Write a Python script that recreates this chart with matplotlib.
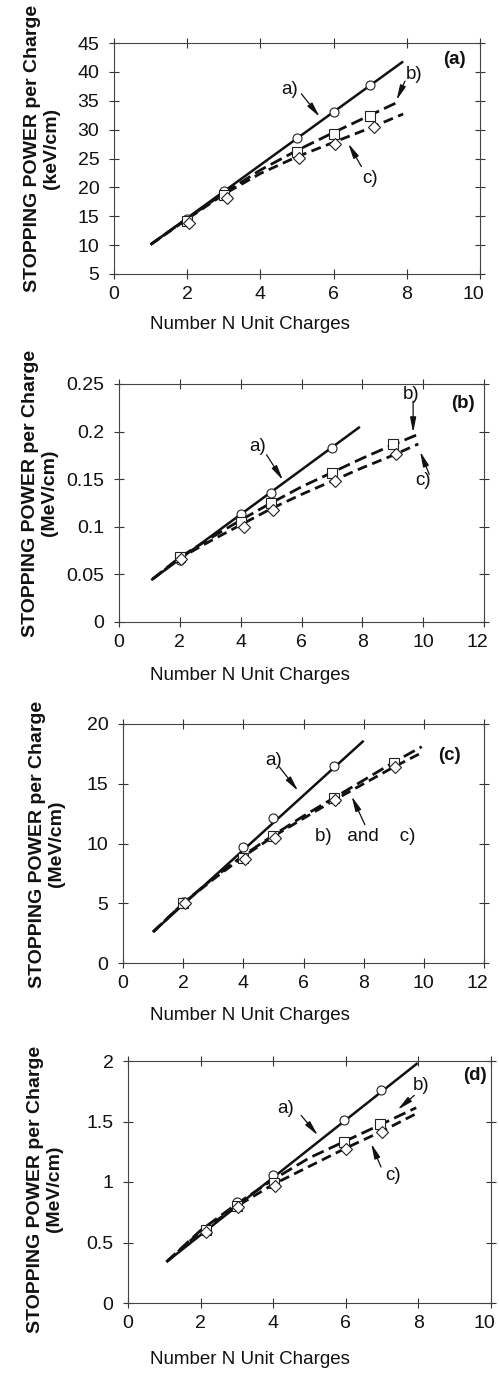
import matplotlib
matplotlib.use("Agg")
import matplotlib.pyplot as plt
from matplotlib.transforms import ScaledTranslation

plt.rcParams["font.family"] = ["Liberation Sans", "DejaVu Sans"]

W, H = 499, 1374

# ---------------------------------------------------------------------------
# Data
# ---------------------------------------------------------------------------

# panel (a), keV/cm
a_fit_a_x = [1.0, 7.9]
a_fit_a_y = [10.1, 41.8]
a_fit_b_x = [1, 2, 3, 4, 5, 6, 7, 7.7]
a_fit_b_y = [10.1, 14.6, 19.0, 23.0, 26.4, 29.5, 32.5, 34.6]
a_fit_c_x = [1, 2, 3, 4, 5, 6, 7, 7.9]
a_fit_c_y = [10.1, 14.5, 18.8, 22.4, 25.3, 27.8, 30.3, 32.7]
a_circ_x = [2, 3, 5, 6, 7]
a_circ_y = [14.6, 19.4, 28.5, 33.0, 37.7]
a_sq_x = [2, 3, 5, 6, 7]
a_sq_y = [14.2, 18.6, 26.1, 29.3, 32.4]
a_dia_x = [2.05, 3.1, 5.05, 6.05, 7.1]
a_dia_y = [13.9, 18.2, 25.1, 27.5, 30.4]

# panel (b), MeV/cm
b_fit_a_x = [1.06, 7.92]
b_fit_a_y = [0.044, 0.205]
b_fit_b_x = [1.1, 2, 3, 4, 5, 6, 7, 8, 9, 9.9]
b_fit_b_y = [0.045, 0.068, 0.088, 0.107, 0.125, 0.142, 0.157, 0.172, 0.186, 0.198]
b_fit_c_x = [1.1, 2, 3, 4, 5, 6, 7, 8, 9, 9.84]
b_fit_c_y = [0.045, 0.067, 0.085, 0.102, 0.119, 0.134, 0.148, 0.162, 0.175, 0.187]
b_circ_x = [2, 4, 5, 7]
b_circ_y = [0.065, 0.113, 0.136, 0.183]
b_sq_x = [2, 4, 5, 7, 9]
b_sq_y = [0.068, 0.105, 0.125, 0.157, 0.187]
b_dia_x = [2.05, 4.1, 5.05, 7.1, 9.1]
b_dia_y = [0.066, 0.100, 0.118, 0.148, 0.176]

# panel (c), MeV/cm
c_fit_a_x = [1.0, 8.0]
c_fit_a_y = [2.6, 18.6]
c_fit_b_x = [1, 2, 3, 4, 5, 6, 7, 8, 9, 9.93]
c_fit_b_y = [2.6, 5.0, 7.1, 9.0, 10.7, 12.3, 13.8, 15.3, 16.8, 18.1]
c_fit_c_x = [1, 2, 3, 4, 5, 6, 7, 8, 9, 9.93]
c_fit_c_y = [2.6, 5.0, 7.0, 8.9, 10.6, 12.1, 13.6, 15.0, 16.4, 17.6]
c_circ_x = [2, 4, 5, 7]
c_circ_y = [5.1, 9.7, 12.1, 16.5]
c_sq_x = [2, 4, 5, 7, 9]
c_sq_y = [5.0, 8.8, 10.6, 13.8, 16.7]
c_dia_x = [2.05, 4.05, 5.05, 7.05, 9.05]
c_dia_y = [5.0, 8.7, 10.5, 13.6, 16.4]

# panel (d), MeV/cm
d_fit_a_x = [1.06, 7.98]
d_fit_a_y = [0.339, 1.983]
d_fit_b_x = [1.06, 2, 3, 4, 5, 6, 7, 7.94]
d_fit_b_y = [0.34, 0.60, 0.82, 1.02, 1.20, 1.34, 1.48, 1.614]
d_fit_c_x = [1.06, 2, 3, 4, 5, 6, 7, 7.94]
d_fit_c_y = [0.34, 0.59, 0.80, 0.98, 1.13, 1.28, 1.42, 1.565]
d_circ_x = [2.14, 3.0, 3.99, 5.94, 6.97]
d_circ_y = [0.606, 0.835, 1.055, 1.51, 1.758]
d_sq_x = [2.14, 3.0, 4.01, 5.96, 6.94]
d_sq_y = [0.60, 0.80, 0.99, 1.33, 1.477]
d_dia_x = [2.16, 3.02, 4.05, 6.0, 7.0]
d_dia_y = [0.59, 0.79, 0.97, 1.275, 1.413]

PANELS = [
    dict(tag="(a)", unit="(keV/cm)",
         xlim=(0, 10), xticks=[0, 2, 4, 6, 8, 10],
         ylim=(5, 45), yticks=[5, 10, 15, 20, 25, 30, 35, 40, 45], ylabels=None,
         fits=[(a_fit_a_x, a_fit_a_y), (a_fit_b_x, a_fit_b_y), (a_fit_c_x, a_fit_c_y)],
         pts=[(a_circ_x, a_circ_y), (a_sq_x, a_sq_y), (a_dia_x, a_dia_y)],
         box=(114, 480, 43, 274), ylab_x=60, ylab_y=148, xlab_y=325,
         tag_xy=(9.3, 42.1),
         notes=[("a)", (4.8, 36.9), (5.12, 36.2), (5.62, 32.2)),
                ("b)", (8.2, 39.6), (7.95, 38.4), (7.72, 35.1)),
                ("c)", (7.0, 21.5), (6.76, 23.6), (6.4, 27.6))]),
    dict(tag="(b)", unit="(MeV/cm)",
         xlim=(0, 12), xticks=[0, 2, 4, 6, 8, 10, 12],
         ylim=(0, 0.25), yticks=[0, 0.05, 0.1, 0.15, 0.2, 0.25],
         ylabels=["0", "0.05", "0.1", "0.15", "0.2", "0.25"],
         fits=[(b_fit_a_x, b_fit_a_y), (b_fit_b_x, b_fit_b_y), (b_fit_c_x, b_fit_c_y)],
         pts=[(b_circ_x, b_circ_y), (b_sq_x, b_sq_y), (b_dia_x, b_dia_y)],
         box=(119, 484, 384, 622), ylab_x=58, ylab_y=493, xlab_y=676,
         tag_xy=(11.3, 0.230),
         notes=[("a)", (4.57, 0.184), (4.85, 0.1756), (5.39, 0.149)),
                ("b)", (9.6, 0.239), (9.67, 0.232), (9.67, 0.199)),
                ("c)", (10.0, 0.149), (10.2, 0.155), (9.9, 0.179))]),
    dict(tag="(c)", unit="(MeV/cm)",
         xlim=(0, 12), xticks=[0, 2, 4, 6, 8, 10, 12],
         ylim=(0, 20), yticks=[0, 5, 10, 15, 20], ylabels=None,
         fits=[(c_fit_a_x, c_fit_a_y), (c_fit_b_x, c_fit_b_y), (c_fit_c_x, c_fit_c_y)],
         pts=[(c_circ_x, c_circ_y), (c_sq_x, c_sq_y), (c_dia_x, c_dia_y)],
         box=(123, 484, 724, 963), ylab_x=65, ylab_y=844, xlab_y=1016,
         tag_xy=(10.86, 17.4),
         notes=[("a)", (5.0, 16.96), (5.2, 16.4), (5.82, 14.4)),
                ("b)   and    c)", (8.05, 10.6), (8.04, 11.58), (7.6, 13.95))]),
    dict(tag="(d)", unit="(MeV/cm)",
         xlim=(0, 10), xticks=[0, 2, 4, 6, 8, 10],
         ylim=(0, 2), yticks=[0, 0.5, 1, 1.5, 2],
         ylabels=["0", "0.5", "1", "1.5", "2"],
         fits=[(d_fit_a_x, d_fit_a_y), (d_fit_b_x, d_fit_b_y), (d_fit_c_x, d_fit_c_y)],
         pts=[(d_circ_x, d_circ_y), (d_sq_x, d_sq_y), (d_dia_x, d_dia_y)],
         box=(128, 491, 1061, 1303), ylab_x=63, ylab_y=1189, xlab_y=1360,
         tag_xy=(9.57, 1.88),
         notes=[("a)", (4.34, 1.61), (4.77, 1.55), (5.23, 1.386)),
                ("b)", (8.07, 1.80), (7.89, 1.716), (7.43, 1.598)),
                ("c)", (7.29, 1.055), (6.97, 1.124), (6.7, 1.317))]),
]

INK = "#111111"
TICK_FS = 14
LABEL_FS = 13.5

fig = plt.figure(figsize=(W / 100, H / 100), dpi=100)

for p in PANELS:
    l, r, t, b = p["box"]
    ax = fig.add_axes([l / W, 1 - b / H, (r - l) / W, (b - t) / H])
    ax.set_xlim(*p["xlim"])
    ax.set_ylim(*p["ylim"])
    ax.set_xticks(p["xticks"])
    ax.set_yticks(p["yticks"])
    if p["ylabels"]:
        ax.set_yticklabels(p["ylabels"])
    ax.tick_params(direction="inout", length=7, width=0.8, colors="#333333",
                   labelcolor=INK, labelsize=TICK_FS, top=True, right=True)
    ax.tick_params(axis="y", pad=7)
    ax.tick_params(axis="x", pad=5)
    for s in ax.spines.values():
        s.set_linewidth(0.8)
        s.set_color("#444444")

    # last x tick label sits right at the page edge; nudge it inwards a little
    last = ax.get_xticklabels()[-1]
    last.set_transform(last.get_transform() + ScaledTranslation(-5 / 72, 0, fig.dpi_scale_trans))

    (fa, fb, fc) = p["fits"]
    ax.plot(fa[0], fa[1], color=INK, lw=1.8, solid_capstyle="butt")
    ax.plot(fb[0], fb[1], color=INK, lw=2.0, dashes=(4.5, 2))
    ax.plot(fc[0], fc[1], color=INK, lw=2.0, dashes=(3.6, 2))

    (pc, ps, pd) = p["pts"]
    mk = dict(linestyle="none", mfc="white", mec="#222222", mew=0.8)
    ax.plot(pc[0], pc[1], marker="o", ms=6.5, **mk)
    ax.plot(ps[0], ps[1], marker="s", ms=6.5, **mk)
    ax.plot(pd[0], pd[1], marker="D", ms=6.5, **mk)

    for label, txy, start, tip in p["notes"]:
        ax.text(*txy, label, fontsize=LABEL_FS, color=INK, ha="center", va="center")
        ax.annotate("", xy=tip, xytext=start,
                    arrowprops=dict(arrowstyle="-|>,head_length=0.9,head_width=0.18",
                                    lw=0.9, color=INK, shrinkA=0, shrinkB=0))

    ax.text(*p["tag_xy"], p["tag"], fontsize=LABEL_FS, fontweight="bold",
            color=INK, ha="center", va="center")

    ax.set_xlabel("Number N Unit Charges", fontsize=LABEL_FS, color=INK)
    ax.xaxis.set_label_coords(0.5, 1 - (p["xlab_y"] - 9) / H, transform=fig.transFigure)
    ax.set_ylabel("STOPPING POWER per Charge\n" + p["unit"], fontsize=14,
                  fontweight="bold", color=INK, linespacing=1.15)
    ax.yaxis.set_label_coords(p["ylab_x"] / W, 1 - p["ylab_y"] / H, transform=fig.transFigure)

fig.savefig("out.png", dpi=100)
